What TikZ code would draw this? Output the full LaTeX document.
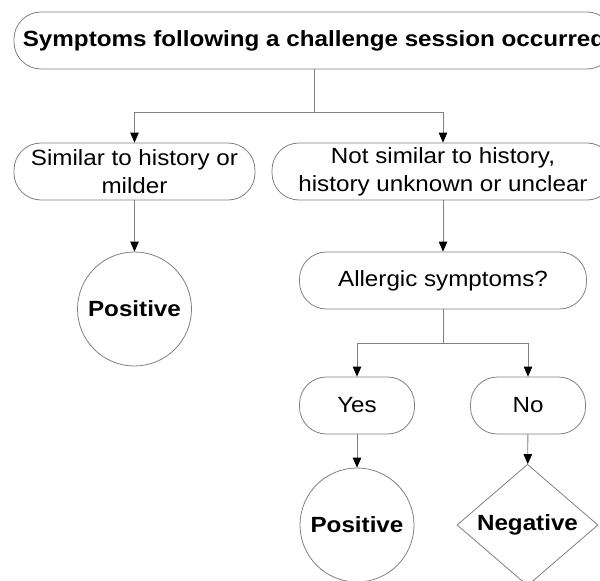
\documentclass[tikz,border=0pt]{standalone}
\usepackage{fontspec}
\setmainfont{Liberation Sans}[FakeStretch=1.1]
\usetikzlibrary{arrows.meta,shapes.geometric}

\begin{document}
\begin{tikzpicture}[x=1pt,y=-1pt,
    box/.style={draw=black!50, line width=0.8pt, rounded corners=27pt, minimum height=57pt,
        align=center, inner sep=0pt, font=\fontsize{22}{28}\selectfont},
    result/.style={draw=black!50, line width=0.8pt, inner sep=0pt,
        font=\fontsize{22}{28}\selectfont\bfseries},
    link/.style={draw=black!50, line width=0.8pt},
    arr/.style={link, -{Triangle[length=10pt,width=8.5pt,color=black]}}]
    \useasboundingbox (0,0) rectangle (600,581);
    \clip (0,0) rectangle (600,581);

    % question boxes
    \node[box, minimum width=600pt, font=\fontsize{22}{28}\selectfont\bfseries] (symptoms) at (314,40.5)
        {Symptoms following a challenge session occurred};
    \node[box, minimum width=241pt] (similar) at (134.5,171.5) {Similar to history or\\milder};
    \node[box, minimum width=342pt] (notsimilar) at (443,171.5) {Not similar to history,\\history unknown or unclear};
    \node[box, minimum width=287pt] (allergic) at (443,280.5) {Allergic symptoms?};
    \node[box, minimum width=115pt] (yes) at (357,405.5) {Yes};
    \node[box, minimum width=115pt] (no) at (528,405.5) {No};

    % outcomes
    \node[result, circle, minimum size=114pt] (positive1) at (134.5,309) {Positive};
    \node[result, circle, minimum size=114pt] (positive2) at (357,525) {Positive};
    \node[result, diamond, minimum width=141pt, minimum height=114pt] (negative) at (527.5,525) {Negative};

    % connectors
    \coordinate (split1) at (314,112);
    \coordinate (split2) at (443,343);
    \draw[link] (symptoms) -- (split1);
    \draw[arr] (split1) -| (similar);
    \draw[arr] (split1) -| (notsimilar);
    \draw[arr] (similar) -- (positive1);
    \draw[arr] (notsimilar) -- (allergic);
    \draw[link] (allergic) -- (split2);
    \draw[arr] (split2) -| (yes);
    \draw[arr] (split2) -| (no);
    \draw[arr] (yes) -- (positive2);
    \draw[arr] (no) -- (negative);
\end{tikzpicture}
\end{document}
